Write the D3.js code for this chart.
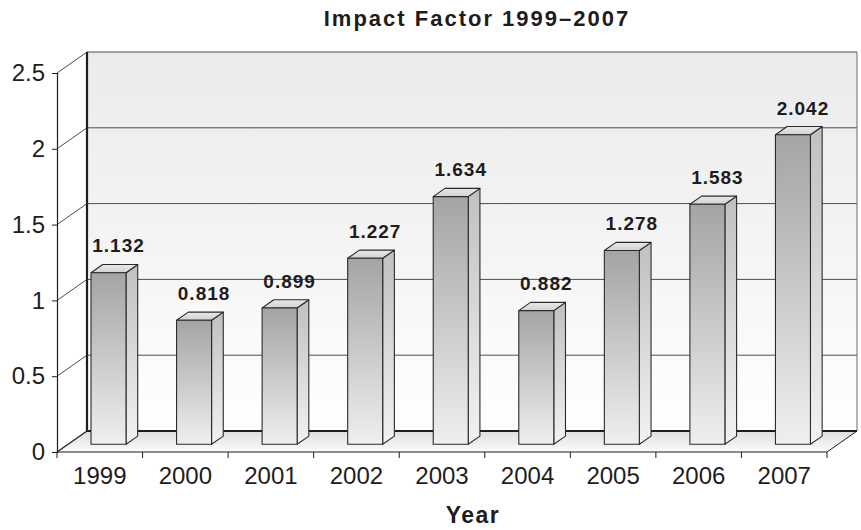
<!DOCTYPE html>
<html>
<head>
<meta charset="utf-8">
<script src="https://cdn.jsdelivr.net/npm/d3@7"></script>
<style>
  html, body { margin: 0; padding: 0; background: #fff; }
  svg { display: block; font-family: "Liberation Sans", Arial, Helvetica, sans-serif; }
</style>
</head>
<body>
<svg id="chart" width="861" height="530"></svg>
<script>
// Journal impact factor by year
const years = ["1999", "2000", "2001", "2002", "2003", "2004", "2005", "2006", "2007"];
const impactFactors = [1.132, 0.818, 0.899, 1.227, 1.634, 0.882, 1.278, 1.583, 2.042];
const yTicks = [0, 0.5, 1, 1.5, 2, 2.5];
const yTickLabels = ["0", "0.5", "1", "1.5", "2", "2.5"];
const chartTitle = "Impact Factor 1999\u20132007";
const xTitle = "Year";

const svg = d3.select("#chart");
const ink = "#1f1c1d";

// Front plane scales
const x = d3.scaleBand().domain(years).range([57, 827]);
const y = d3.scaleLinear().domain([0, 2.5]).range([452, 73]);

// Oblique depth of the plot box
const depth = { dx: 30, dy: -21 };
const proj = (px, v, f) => [px + depth.dx * f, y(v) + depth.dy * f];

// Bar placement inside its band and depth slice
const barOffset = 23, barWidth = 35;
const f1 = 0.367, f2 = 0.757;

const defs = svg.append("defs");
function linGrad(id, stops) {
  const g = defs.append("linearGradient").attr("id", id)
    .attr("x1", 0).attr("y1", 0).attr("x2", 0).attr("y2", 1);
  stops.forEach(([o, c]) => g.append("stop").attr("offset", o).attr("stop-color", c));
}
linGrad("wallGrad", [[0, "#ebebeb"], [0.45, "#f3f3f3"], [1, "#ffffff"]]);
linGrad("floorGrad", [[0, "#dedede"], [1, "#fbfbfb"]]);
linGrad("frontGrad", [[0, "#a4a4a6"], [1, "#efefef"]]);
linGrad("sideGrad", [[0, "#c0c0c2"], [1, "#f2f2f2"]]);
linGrad("topGrad", [[0, "#e9e9e9"], [1, "#d2d2d2"]]);

const line = d3.line();
const x0 = x.range()[0], x1 = x.range()[1];
const yMax = yTicks[yTicks.length - 1];

// Back wall
svg.append("path")
  .attr("d", line([proj(x0, yMax, 1), proj(x1, yMax, 1), proj(x1, 0, 1), proj(x0, 0, 1)]) + "Z")
  .attr("fill", "url(#wallGrad)").attr("stroke", "none");

// Side wall
svg.append("path")
  .attr("d", line([proj(x0, 0, 0), proj(x0, yMax, 0), proj(x0, yMax, 1), proj(x0, 0, 1)]) + "Z")
  .attr("fill", "#ffffff");

// Floor
svg.append("path")
  .attr("d", line([proj(x0, 0, 1), proj(x1, 0, 1), proj(x1, 0, 0), proj(x0, 0, 0)]) + "Z")
  .attr("fill", "url(#floorGrad)");

// Gridlines across the back and side walls
const grid = svg.append("g").attr("fill", "none").attr("stroke", "#4d4d4f").attr("stroke-width", 1);
yTicks.filter(v => v > 0).forEach(v => {
  grid.append("path").attr("d", line([proj(x0, v, 1), proj(x1, v, 1)]));
  grid.append("path").attr("d", line([proj(x0, v, 0), proj(x0, v, 1)]));
});

// Box edges
const edges = svg.append("g").attr("fill", "none").attr("stroke", ink);
edges.append("path").attr("d", line([proj(x1, yMax, 1), proj(x1, 0, 1)])).attr("stroke", "#6d6d6f").attr("stroke-width", 1);
edges.append("path").attr("d", line([proj(x0, 0, 1), proj(x0, yMax, 1)])).attr("stroke-width", 2.2);
edges.append("path").attr("d", line([proj(x0, 0, 1), proj(x1, 0, 1)])).attr("stroke-width", 2.2);
edges.append("path").attr("d", line([proj(x0, 0, 0), proj(x1, 0, 0), proj(x1, 0, 1)])).attr("stroke-width", 1);
edges.append("path").attr("d", line([proj(x0, 0, 0), proj(x0, 0, 1)])).attr("stroke-width", 1.2);

// Bars
const bars = svg.append("g").attr("stroke", "#2b2b2d").attr("stroke-width", 1.1).attr("stroke-linejoin", "round");
years.forEach((yr, i) => {
  const v = impactFactors[i];
  const left = x(yr) + barOffset, right = left + barWidth;
  const fl = proj(left, 0, f1), fr = proj(right, 0, f1);
  const tl = proj(left, v, f1), tr = proj(right, v, f1);
  const br = proj(right, 0, f2), brT = proj(right, v, f2), blT = proj(left, v, f2);
  bars.append("path").attr("d", line([fr, tr, brT, br]) + "Z").attr("fill", "url(#sideGrad)");
  bars.append("path").attr("d", line([tl, tr, brT, blT]) + "Z").attr("fill", "url(#topGrad)");
  bars.append("path").attr("d", line([fl, tl, tr, fr]) + "Z").attr("fill", "url(#frontGrad)");
  // Value label above the bar
  svg.append("text")
    .attr("x", (left + right) / 2 + depth.dx * f1 + 10)
    .attr("y", y(v) + depth.dy * f2 - 12)
    .attr("text-anchor", "middle")
    .attr("font-size", 19).attr("font-weight", "bold")
    .attr("letter-spacing", 1)
    .attr("fill", ink)
    .text(d3.format(".3f")(v));
});

// Value axis on the front left edge
const yAxis = svg.append("g").attr("transform", `translate(${x0},0)`)
  .call(d3.axisLeft(y).tickValues(yTicks).tickFormat((d, i) => yTickLabels[i]).tickSize(5).tickPadding(7));
yAxis.select(".domain").attr("stroke", ink).attr("stroke-width", 1.2);
yAxis.selectAll(".tick line").attr("stroke", ink);
yAxis.selectAll(".tick text").attr("font-size", 24).attr("fill", ink)
  .attr("font-family", '"Liberation Sans", Arial, sans-serif');

// Category axis on the front floor edge
const xAxis = svg.append("g").attr("transform", `translate(0,${y(0)})`)
  .call(d3.axisBottom(x).tickSize(0).tickPadding(0));
xAxis.select(".domain").remove();
xAxis.selectAll(".tick text").attr("font-size", 24).attr("fill", ink)
  .attr("font-family", '"Liberation Sans", Arial, sans-serif')
  .attr("dy", 0).attr("y", 32);
const xBounds = years.map(d => x(d)).concat([x1]);
svg.append("g").attr("stroke", ink).attr("stroke-width", 1)
  .selectAll("line").data(xBounds).join("line")
  .attr("x1", d => d).attr("x2", d => d)
  .attr("y1", y(0)).attr("y2", y(0) + 6);

// Titles
svg.append("text").attr("x", 477).attr("y", 26)
  .attr("text-anchor", "middle").attr("font-size", 22).attr("font-weight", "bold")
  .attr("letter-spacing", 2).attr("fill", ink).text(chartTitle);
svg.append("text").attr("x", 473).attr("y", 523)
  .attr("text-anchor", "middle").attr("font-size", 23).attr("font-weight", "bold")
  .attr("letter-spacing", 1.5).attr("fill", ink).text(xTitle);
</script>
</body>
</html>
